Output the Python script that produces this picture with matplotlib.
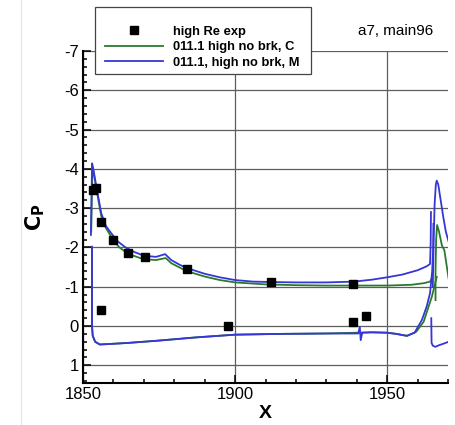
import matplotlib
matplotlib.use("Agg")
import matplotlib.pyplot as plt
from matplotlib.lines import Line2D
from matplotlib.patches import Rectangle
from matplotlib.ticker import MultipleLocator, FuncFormatter

plt.rcParams['font.family'] = ['Liberation Sans', 'DejaVu Sans']

# ---------------- data ----------------
exp_x = [1853.2, 1854.4, 1856.0, 1859.9, 1864.9, 1870.4, 1884.2, 1911.7, 1938.9,
         1855.8, 1897.8, 1938.9, 1943.0]
exp_y = [-3.46, -3.52, -2.65, -2.18, -1.87, -1.76, -1.44, -1.13, -1.07,
         -0.41, 0.0, -0.09, -0.26]

# blue: 011.1, high no brk, M
m_up_x = [1852.6, 1852.8, 1853.0, 1853.5, 1854.4, 1856.0, 1857.5, 1859.3, 1861.5, 1864.0,
          1867.0, 1870.0, 1874.0, 1877.0, 1879.0, 1882.0, 1886.0, 1890.0, 1895.0, 1900.0,
          1906.0, 1912.0, 1920.0, 1930.0, 1939.0, 1945.0, 1950.0, 1955.0, 1960.0, 1963.0,
          1964.1, 1964.3, 1964.4]
m_up_y = [-2.32, -3.3, -4.14, -3.95, -3.54, -2.87, -2.55, -2.36, -2.15, -2.0,
          -1.88, -1.79, -1.76, -1.83, -1.68, -1.55, -1.43, -1.33, -1.24, -1.17,
          -1.13, -1.12, -1.11, -1.11, -1.13, -1.18, -1.24, -1.31, -1.42, -1.52,
          -1.58, -2.1, -2.9]
m_lo_x = [1852.96, 1852.96, 1853.2, 1854.0, 1855.5, 1858.0, 1864.8, 1875.0, 1887.0, 1900.0,
          1915.0, 1930.0, 1940.5, 1941.0, 1941.3, 1941.8, 1945.0, 1950.0, 1953.0, 1956.5,
          1959.0, 1961.4, 1963.0, 1964.1, 1964.8, 1965.1, 1965.2]
m_lo_y = [-2.02, 0.0, 0.25, 0.4, 0.47, 0.46, 0.43, 0.37, 0.29, 0.22,
          0.2, 0.19, 0.19, 0.02, 0.36, 0.17, 0.16, 0.17, 0.2, 0.25,
          0.17, -0.15, -0.5, -0.84, -1.4, -1.93, -2.6]
m_fu_x = [1965.0, 1965.3, 1965.6, 1966.0, 1966.3, 1966.8, 1967.5, 1968.5, 1969.3, 1970.2]
m_fu_y = [-1.0, -2.2, -3.1, -3.6, -3.7, -3.6, -3.25, -2.75, -2.4, -2.15]
m_fl_x = [1964.5, 1964.6, 1965.0, 1965.8, 1967.0, 1968.5, 1970.2]
m_fl_y = [-0.2, 0.43, 0.5, 0.53, 0.49, 0.45, 0.40]

# green: 011.1 high no brk, C
c_up_x = [1852.7, 1852.9, 1853.1, 1853.6, 1854.5, 1856.0, 1857.5, 1860.0, 1862.0, 1865.0,
          1870.0, 1874.0, 1877.2, 1879.0, 1884.0, 1890.0, 1895.0, 1900.0, 1910.0, 1920.0,
          1930.0, 1940.0, 1950.0, 1958.0, 1962.0, 1964.1, 1964.6]
c_up_y = [-2.4, -3.3, -4.05, -3.85, -3.45, -2.8, -2.5, -2.18, -2.0, -1.83,
          -1.7, -1.68, -1.73, -1.6, -1.4, -1.26, -1.17, -1.11, -1.06, -1.04,
          -1.03, -1.03, -1.03, -1.05, -1.09, -1.13, -1.2]
c_lo_x = [1852.96, 1852.96, 1853.2, 1854.0, 1855.5, 1858.0, 1864.8, 1875.0, 1887.0, 1900.0,
          1915.0, 1930.0, 1945.0, 1950.0, 1953.0, 1956.5, 1959.5, 1962.0, 1964.7, 1966.3]
c_lo_y = [-2.0, 0.0, 0.25, 0.4, 0.47, 0.46, 0.43, 0.37, 0.29, 0.22,
          0.2, 0.19, 0.16, 0.17, 0.2, 0.25, 0.15, -0.11, -0.75, -1.25]
c_fl_x = [1965.9, 1965.9, 1966.1, 1966.4, 1967.0, 1968.0, 1968.8, 1970.2]
c_fl_y = [-0.66, -1.42, -2.2, -2.57, -2.42, -2.05, -1.93, -1.21]

labels = ["high Re exp", "011.1 high no brk, C", "011.1, high no brk, M"]

# ---------------- style ----------------
BLUE = '#3636d6'
GREEN = '#2a7a2e'
GRID = '#5e5e5e'
W, H = 455, 425

fig = plt.figure(figsize=(4.55, 4.25), dpi=100)
ax = fig.add_axes([83/W, 1-383/H, (448-83)/W, (383-51)/H])

fig.add_artist(Line2D([21/W, 21/W], [0, 1], color='#e2e2e2', lw=0.8))

lw = 1.3
ax.plot(c_up_x, c_up_y, color=GREEN, lw=lw, zorder=3)
ax.plot(c_lo_x, c_lo_y, color=GREEN, lw=lw, zorder=3)
ax.plot(c_fl_x, c_fl_y, color=GREEN, lw=lw, zorder=3)
ax.plot(m_up_x, m_up_y, color=BLUE, lw=lw, zorder=4)
ax.plot(m_lo_x, m_lo_y, color=BLUE, lw=lw, zorder=4)
ax.plot(m_fu_x, m_fu_y, color=BLUE, lw=lw, zorder=4)
ax.plot(m_fl_x, m_fl_y, color=BLUE, lw=lw, zorder=4)
ax.plot(exp_x, exp_y, linestyle='none', marker='s', ms=6.4, color='black', zorder=5)

ax.set_xlim(1850, 1970)
ax.set_ylim(1.45, -7)

ax.xaxis.set_major_locator(MultipleLocator(50))
ax.xaxis.set_minor_locator(MultipleLocator(10))
ax.yaxis.set_major_locator(MultipleLocator(1))
ax.yaxis.set_minor_locator(MultipleLocator(0.2))
ax.yaxis.set_major_formatter(FuncFormatter(lambda v, p: "0" if abs(v) < 0.5 else f"{v:.0f}"))

ax.grid(True, which='major', color=GRID, lw=0.9, zorder=1)
ax.set_axisbelow(True)

for s in ['top', 'right']:
    ax.spines[s].set_visible(False)
for s in ['left', 'bottom']:
    ax.spines[s].set_linewidth(1.5)
    ax.spines[s].set_color('black')

ax.tick_params(which='both', direction='in', top=False, right=False, width=1.1, color='black')
ax.tick_params(which='major', length=6, labelsize=12, pad=3)
ax.tick_params(which='minor', length=3.2)

ax.set_xlabel('X', fontsize=14, fontweight='bold', labelpad=2)
ax.set_ylabel(r'$\mathbf{C}_\mathbf{P}$', fontsize=15, labelpad=12)

h1 = Line2D([], [], linestyle='none', marker='s', ms=6.4, color='black')
h2 = Line2D([], [], color=GREEN, lw=lw)
h3 = Line2D([], [], color=BLUE, lw=lw)
leg = ax.legend([h1, h2, h3], labels, loc='upper left',
                bbox_to_anchor=(95/W, 1-16/H), bbox_transform=fig.transFigure,
                prop={'family': 'Liberation Sans', 'weight': 'bold', 'size': 9.3},
                frameon=False, borderaxespad=0, borderpad=0.75,
                handlelength=4.5, handletextpad=0.8, labelspacing=0.27)
leg.set_zorder(10)
ax.add_patch(Rectangle((95/W, 1-74/H), (311-95)/W, (74-7)/H, transform=fig.transFigure,
                       facecolor='white', edgecolor='#444444', lw=0.9, zorder=9,
                       clip_on=False))

fig.text(358/W, 1-31/H, 'a7, main96', fontsize=11, va='center', ha='left')

fig.savefig('out.png', dpi=100)
